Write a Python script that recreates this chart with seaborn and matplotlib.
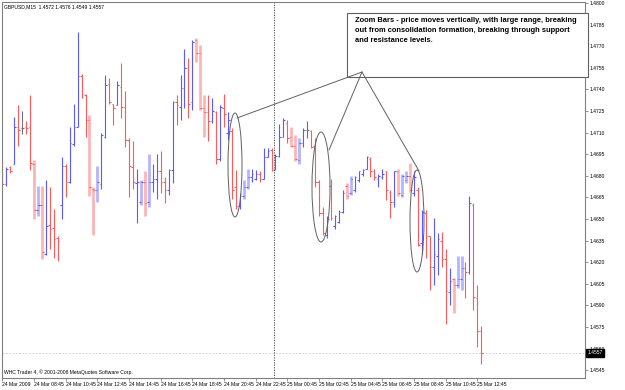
import numpy as np
import pandas as pd
import matplotlib
matplotlib.use("Agg")
import matplotlib.pyplot as plt
import seaborn as sns
from matplotlib.patches import Ellipse, Rectangle
from matplotlib.lines import Line2D

# ---------------- data (GBPUSD, M15, 24 Mar 06:45 -> 25 Mar 13:00) ----------------
symbol = "GBPUSD,M15"
opens = [1.4688, 1.4674, 1.4686, 1.4688, 1.4714, 1.4713, 1.4714, 1.4714, 1.4688, 1.4656,
         1.4660, 1.4626, 1.4646, 1.4644, 1.4637, 1.4660, 1.4687, 1.4676, 1.4702, 1.4714,
         1.4749, 1.4736, 1.4719, 1.4671, 1.4670, 1.4674, 1.4707, 1.4744, 1.4730, 1.4729,
         1.4742, 1.4728, 1.4705, 1.4686, 1.4675, 1.4662, 1.4676, 1.4662, 1.4676, 1.4678,
         1.4683, 1.4676, 1.4670, 1.4684, 1.4731, 1.4728, 1.4741, 1.4755, 1.4731, 1.4774,
         1.4765, 1.4727, 1.4724, 1.4718, 1.4724, 1.4692, 1.4727, 1.4710, 1.4711, 1.4672,
         1.4659, 1.4666, 1.4672, 1.4679, 1.4678, 1.4681, 1.4678, 1.4693, 1.4698, 1.4685,
         1.4694, 1.4707, 1.4717, 1.4707, 1.4701, 1.4691, 1.4703, 1.4712, 1.4711, 1.4701,
         1.4676, 1.4654, 1.4639, 1.4673, 1.4645, 1.4648, 1.4655, 1.4673, 1.4668, 1.4670,
         1.4677, 1.4681, 1.4685, 1.4692, 1.4683, 1.4678, 1.4679, 1.4683, 1.4669, 1.4662,
         1.4683, 1.4667, 1.4677, 1.4680, 1.4668, 1.4670, 1.4633, 1.4654, 1.4638, 1.4617,
         1.4624, 1.4635, 1.4622, 1.4599, 1.4608, 1.4604, 1.4608, 1.4616, 1.4613, 1.4660,
         1.4595, 1.4572]
highs = [1.4690, 1.4686, 1.4687, 1.4721, 1.4729, 1.4725, 1.4718, 1.4736, 1.4691, 1.4673,
         1.4673, 1.4677, 1.4672, 1.4657, 1.4638, 1.4693, 1.4688, 1.4714, 1.4730, 1.4780,
         1.4751, 1.4737, 1.4722, 1.4672, 1.4687, 1.4710, 1.4750, 1.4748, 1.4730, 1.4746,
         1.4758, 1.4739, 1.4706, 1.4704, 1.4685, 1.4677, 1.4683, 1.4695, 1.4688, 1.4695,
         1.4697, 1.4679, 1.4685, 1.4732, 1.4736, 1.4750, 1.4768, 1.4762, 1.4774, 1.4776,
         1.4771, 1.4736, 1.4736, 1.4734, 1.4725, 1.4729, 1.4737, 1.4724, 1.4713, 1.4684,
         1.4668, 1.4677, 1.4685, 1.4685, 1.4684, 1.4683, 1.4699, 1.4699, 1.4699, 1.4695,
         1.4716, 1.4720, 1.4719, 1.4714, 1.4708, 1.4706, 1.4713, 1.4718, 1.4712, 1.4706,
         1.4677, 1.4658, 1.4652, 1.4678, 1.4653, 1.4656, 1.4670, 1.4675, 1.4680, 1.4680,
         1.4683, 1.4685, 1.4694, 1.4693, 1.4685, 1.4681, 1.4685, 1.4683, 1.4670, 1.4683,
         1.4685, 1.4681, 1.4683, 1.4689, 1.4683, 1.4672, 1.4656, 1.4656, 1.4638, 1.4651,
         1.4640, 1.4641, 1.4629, 1.4616, 1.4609, 1.4624, 1.4624, 1.4620, 1.4666, 1.4661,
         1.4604, 1.4576]
lows = [1.4671, 1.4673, 1.4682, 1.4688, 1.4701, 1.4709, 1.4709, 1.4684, 1.4650, 1.4652,
        1.4622, 1.4625, 1.4629, 1.4623, 1.4621, 1.4650, 1.4665, 1.4675, 1.4701, 1.4714,
        1.4734, 1.4707, 1.4666, 1.4639, 1.4662, 1.4671, 1.4706, 1.4730, 1.4715, 1.4729,
        1.4720, 1.4700, 1.4665, 1.4671, 1.4647, 1.4660, 1.4652, 1.4658, 1.4669, 1.4664,
        1.4668, 1.4661, 1.4667, 1.4675, 1.4715, 1.4719, 1.4727, 1.4720, 1.4726, 1.4759,
        1.4726, 1.4707, 1.4704, 1.4717, 1.4688, 1.4690, 1.4714, 1.4705, 1.4664, 1.4657,
        1.4657, 1.4664, 1.4671, 1.4676, 1.4677, 1.4676, 1.4678, 1.4693, 1.4683, 1.4684,
        1.4693, 1.4707, 1.4703, 1.4700, 1.4690, 1.4688, 1.4700, 1.4706, 1.4699, 1.4672,
        1.4652, 1.4639, 1.4637, 1.4649, 1.4643, 1.4647, 1.4654, 1.4664, 1.4667, 1.4669,
        1.4676, 1.4680, 1.4685, 1.4679, 1.4677, 1.4672, 1.4678, 1.4663, 1.4651, 1.4658,
        1.4666, 1.4665, 1.4675, 1.4669, 1.4666, 1.4631, 1.4626, 1.4623, 1.4601, 1.4604,
        1.4611, 1.4617, 1.4577, 1.4590, 1.4585, 1.4602, 1.4601, 1.4595, 1.4612, 1.4587,
        1.4561, 1.4549]
closes = [1.4674, 1.4685, 1.4683, 1.4714, 1.4712, 1.4713, 1.4713, 1.4689, 1.4656, 1.4660,
          1.4627, 1.4645, 1.4643, 1.4636, 1.4635, 1.4687, 1.4676, 1.4703, 1.4714, 1.4749,
          1.4735, 1.4719, 1.4672, 1.4670, 1.4676, 1.4708, 1.4743, 1.4731, 1.4727, 1.4743,
          1.4728, 1.4705, 1.4687, 1.4676, 1.4676, 1.4676, 1.4661, 1.4676, 1.4678, 1.4683,
          1.4676, 1.4670, 1.4684, 1.4731, 1.4729, 1.4741, 1.4755, 1.4730, 1.4773, 1.4765,
          1.4727, 1.4724, 1.4718, 1.4725, 1.4692, 1.4728, 1.4723, 1.4719, 1.4670, 1.4659,
          1.4666, 1.4672, 1.4679, 1.4681, 1.4681, 1.4678, 1.4693, 1.4697, 1.4684, 1.4694,
          1.4707, 1.4719, 1.4706, 1.4701, 1.4692, 1.4703, 1.4712, 1.4712, 1.4700, 1.4676,
          1.4654, 1.4640, 1.4650, 1.4651, 1.4652, 1.4655, 1.4668, 1.4666, 1.4678, 1.4679,
          1.4683, 1.4684, 1.4693, 1.4683, 1.4679, 1.4680, 1.4681, 1.4670, 1.4662, 1.4683,
          1.4668, 1.4680, 1.4680, 1.4670, 1.4679, 1.4632, 1.4655, 1.4638, 1.4617, 1.4626,
          1.4636, 1.4622, 1.4600, 1.4607, 1.4604, 1.4608, 1.4616, 1.4613, 1.4661, 1.4596,
          1.4572, 1.4557]
# bars flagged by the "Zoom Bars" indicator
zoom_bars = [8, 9, 10, 22, 23, 24, 35, 36, 37, 49, 50, 51, 61, 62, 73, 74, 75,
             87, 88, 100, 101, 102, 103, 114, 115, 116]
time_labels = ["24 Mar 2009", "24 Mar 08:45", "24 Mar 10:45", "24 Mar 12:45",
               "24 Mar 14:45", "24 Mar 16:45", "24 Mar 18:45", "24 Mar 20:45",
               "24 Mar 22:45", "25 Mar 00:45", "25 Mar 02:45", "25 Mar 04:45",
               "25 Mar 06:45", "25 Mar 08:45", "25 Mar 10:45", "25 Mar 12:45"]
label_bars = [0, 8, 16, 24, 32, 40, 48, 56, 64, 72, 80, 88, 96, 104, 112, 120]
price_ticks = [1.4545, 1.4560, 1.4575, 1.4590, 1.4605, 1.4620, 1.4635, 1.4650, 1.4665,
               1.4680, 1.4695, 1.4710, 1.4725, 1.4740, 1.4755, 1.4770, 1.4785, 1.4800]
day_break_bar = 68.5
bid = 1.4557
note = ("Zoom Bars - price moves vertically, with large range, breaking\n"
        "out from consolidation formation, breaking through support\n"
        "and resistance levels.")
footer = "WHC Trader 4, \u00a9 2001-2008 MetaQuotes Software Corp."

# ---------------- styling ----------------
sns.set_theme(style="white")
plt.rcParams['font.family'] = ['Liberation Sans', 'DejaVu Sans']

W, H = 625, 390
fig = plt.figure(figsize=(W / 100, H / 100), dpi=100)
fig.patch.set_facecolor("white")
ax = fig.add_axes([2 / W, 12 / H, 583 / W, 376 / H])
ax.set_facecolor("white")

df = pd.DataFrame({"o": opens, "h": highs, "l": lows, "c": closes})
df["i"] = np.arange(len(df))
df["zoom"] = df["i"].isin(zoom_bars)
df["dir"] = np.where(df.c > df.o, "up", np.where(df.c < df.o, "down", "flat"))

strong = {"up": "#5a5aff", "down": "#ff5a5a", "flat": "#707070"}
pale = {"up": "#b4b4ff", "down": "#ffb4b4", "flat": "#b0b0b0"}

for (d, z), g in df.groupby(["dir", "zoom"]):
    col = pale[d] if z else strong[d]
    ax.vlines(g.i, g.l, g.h, colors=col, lw=2.0 if z else 0.8, zorder=2,
              capstyle="butt")
for d, g in df.groupby("dir"):
    ax.hlines(g.o, g.i - 0.4, g.i, colors=strong[d], lw=0.8, zorder=3)
    ax.hlines(g.c, g.i, g.i + 0.4, colors=strong[d], lw=0.8, zorder=3)

ax.set_xlim(-0.1, 147.2)
ax.set_ylim(1.45396, 1.48007)

# axes / ticks
for s in ax.spines.values():
    s.set_color("#808080")
    s.set_linewidth(0.8)
ax.yaxis.tick_right()
ax.set_yticks(price_ticks)
ax.set_yticklabels([f"{p:.4f}" for p in price_ticks])
ax.set_xticks(label_bars)
ax.set_xticklabels(time_labels, ha="left")
ax.tick_params(axis="y", which="both", right=True, left=False, length=2, width=0.6,
               color="#808080", labelsize=3.6, pad=1.5, labelcolor="black")
ax.tick_params(axis="x", which="both", bottom=True, length=2, width=0.6,
               color="#808080", labelsize=3.6, pad=1.0, labelcolor="black")
ax.grid(False)

# bid line + label
ax.axhline(bid, color="#c8c8c8", lw=0.6, ls=(0, (2, 2)), zorder=1)
ax.text(1.004, bid, f"{bid:.4f}", transform=ax.get_yaxis_transform(), ha="left",
        va="center", color="white", fontsize=3.6,
        bbox=dict(facecolor="black", edgecolor="black", pad=0.8), clip_on=False)
# day separator
ax.axvline(day_break_bar, color="#404040", lw=0.6, ls=(0, (1.5, 1.5)), zorder=1)

# header / footer
fig.text(4 / W, 1 - 7 / H,
         f"{symbol}  {opens[-1]:.4f} {highs[-1]:.4f} {lows[-1]:.4f} {closes[-1]:.4f}",
         fontsize=3.6, va="center", ha="left", color="black")
fig.text(4 / W, 1 - 372 / H, footer, fontsize=3.6, va="center", ha="left",
         color="black")

# annotations in figure pixel space
def fx(x):
    return x / W

def fy(y):
    return 1 - y / H

box = Rectangle((fx(347), fy(77)), (588 - 347) / W, (77 - 13) / H,
                transform=fig.transFigure, facecolor="white", edgecolor="#606060",
                lw=0.8, zorder=5)
fig.add_artist(box)
fig.text(fx(355), fy(17.5), note, fontsize=5.4, fontweight="bold", va="top",
         ha="left", color="black", linespacing=1.55, zorder=6)

apex = (362, 72)
for end in [(237, 118), (329, 150), (419, 171)]:
    fig.add_artist(Line2D([fx(apex[0]), fx(end[0])], [fy(apex[1]), fy(end[1])],
                          transform=fig.transFigure, color="#606060", lw=0.7,
                          zorder=7))
for cx, cy, w, h in [(235, 165, 14, 104), (321, 187, 18, 110), (417, 221, 14, 102)]:
    fig.add_artist(Ellipse((fx(cx), fy(cy)), w / W, h / H, transform=fig.transFigure,
                           fill=False, edgecolor="#606060", lw=0.7, zorder=7))

fig.savefig("out.png", dpi=100, facecolor="white")
